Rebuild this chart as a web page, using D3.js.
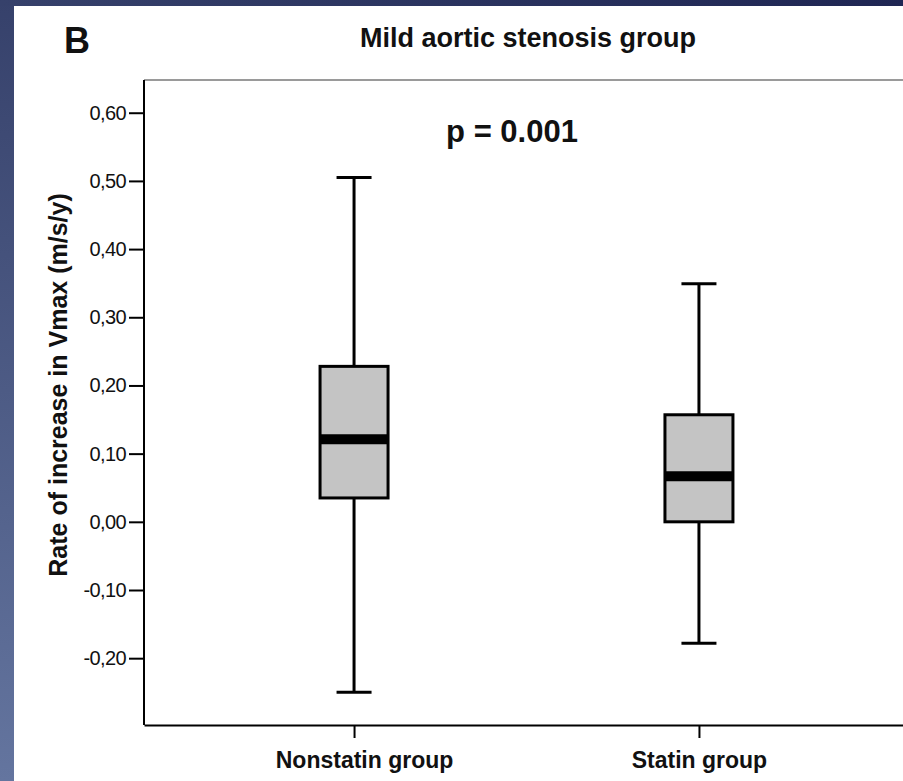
<!DOCTYPE html>
<html>
<head>
<meta charset="utf-8">
<script src="https://cdn.jsdelivr.net/npm/d3@7"></script>
<style>
  body { margin: 0; padding: 0; overflow: hidden; }
  svg { display: block; font-family: "Liberation Sans", Arial, sans-serif; }
</style>
</head>
<body>
<div id="chart"></div>
<script>
// Data
const groups = ["Nonstatin group", "Statin group"];
const mins    = [-0.250, -0.178];
const q1s     = [0.035, 0.000];
const medians = [0.121, 0.067];
const q3s     = [0.228, 0.157];
const maxs    = [0.505, 0.349];
const yTicks  = [-0.2, -0.1, 0, 0.1, 0.2, 0.3, 0.4, 0.5, 0.6];

const W = 903, H = 781;
const plot = {left: 144, top: 80, bottom: 725, right: 909};

const svg = d3.select("#chart")
  .append("svg")
    .attr("width", W)
    .attr("height", H);

// Background: blue slide frame on the top and left
const defs = svg.append("defs");
const gLeft = defs.append("linearGradient")
  .attr("id", "gl").attr("x1", 0).attr("y1", 0).attr("x2", 0).attr("y2", 1);
gLeft.append("stop").attr("offset", "0%").attr("stop-color", "#36416b");
gLeft.append("stop").attr("offset", "100%").attr("stop-color", "#64759f");
const gTop = defs.append("linearGradient")
  .attr("id", "gt").attr("x1", 0).attr("y1", 0).attr("x2", 1).attr("y2", 0);
gTop.append("stop").attr("offset", "0%").attr("stop-color", "#36416b");
gTop.append("stop").attr("offset", "100%").attr("stop-color", "#1f2653");

svg.append("rect").attr("width", W).attr("height", H).attr("fill", "#ffffff");
svg.append("rect").attr("x", 0).attr("y", 0).attr("width", 14).attr("height", H).attr("fill", "url(#gl)");
svg.append("rect").attr("x", 0).attr("y", 0).attr("width", W).attr("height", 6).attr("fill", "url(#gt)");

// Scales
const y = d3.scaleLinear()
  .domain([-0.298, 0.648])
  .range([plot.bottom, plot.top]);

const x = d3.scalePoint()
  .domain(groups)
  .range([plot.left, plot.right])
  .padding(0.609);

// Top frame line (grey)
svg.append("line")
  .attr("x1", plot.left).attr("x2", W)
  .attr("y1", plot.top).attr("y2", plot.top)
  .attr("stroke", "#9a9a9a")
  .attr("stroke-width", 2);

// Y axis, decimal comma and plain hyphen like the original
const fmt = d3.format(".2f");
const yAxis = svg.append("g")
  .attr("transform", `translate(${plot.left},0)`)
  .call(d3.axisLeft(y)
    .tickValues(yTicks)
    .tickSize(15)
    .tickSizeOuter(0)
    .tickPadding(3)
    .tickFormat(d => fmt(d).replace(".", ",").replace("\u2212", "-")));
yAxis.select(".domain").attr("stroke", "#000").attr("stroke-width", 2)
  .attr("d", `M0,${plot.top}V${plot.bottom}`);
yAxis.selectAll(".tick line").attr("stroke", "#000").attr("stroke-width", 2);
yAxis.selectAll(".tick text")
  .attr("fill", "#111")
  .style("font-size", "20px")
  .style("letter-spacing", "-0.6px");

// X axis
const xAxis = svg.append("g")
  .attr("transform", `translate(0,${plot.bottom})`)
  .call(d3.axisBottom(x).tickSize(13).tickSizeOuter(0).tickPadding(14));
xAxis.select(".domain").attr("stroke", "#000").attr("stroke-width", 2);
xAxis.selectAll(".tick line").attr("stroke", "#000").attr("stroke-width", 2);
xAxis.selectAll(".tick text")
  .attr("fill", "#111")
  .attr("dx", (d, i) => i === 0 ? 10 : 0)
  .style("font-size", "23px")
  .style("font-weight", "bold");

// Y axis label
svg.append("text")
  .attr("transform", `translate(67,385) rotate(-90)`)
  .attr("text-anchor", "middle")
  .style("font-size", "25px")
  .style("font-weight", "bold")
  .attr("fill", "#111")
  .text("Rate of increase in Vmax (m/s/y)");

// Boxes
const boxW = 68, capW = 35;
const boxes = svg.append("g").selectAll("g")
  .data(groups.map((g, i) => ({g, min: mins[i], q1: q1s[i], med: medians[i], q3: q3s[i], max: maxs[i]})))
  .enter()
  .append("g");

// whisker line
boxes.append("line")
  .attr("x1", d => x(d.g)).attr("x2", d => x(d.g))
  .attr("y1", d => y(d.min)).attr("y2", d => y(d.max))
  .attr("stroke", "#000").attr("stroke-width", 3);

// caps
boxes.append("line")
  .attr("x1", d => x(d.g) - capW / 2).attr("x2", d => x(d.g) + capW / 2)
  .attr("y1", d => y(d.max)).attr("y2", d => y(d.max))
  .attr("stroke", "#000").attr("stroke-width", 3);
boxes.append("line")
  .attr("x1", d => x(d.g) - capW / 2).attr("x2", d => x(d.g) + capW / 2)
  .attr("y1", d => y(d.min)).attr("y2", d => y(d.min))
  .attr("stroke", "#000").attr("stroke-width", 3);

// box
boxes.append("rect")
  .attr("x", d => x(d.g) - boxW / 2)
  .attr("width", boxW)
  .attr("y", d => y(d.q3))
  .attr("height", d => y(d.q1) - y(d.q3))
  .attr("fill", "#c4c4c4")
  .attr("stroke", "#000")
  .attr("stroke-width", 3);

// median
boxes.append("line")
  .attr("x1", d => x(d.g) - boxW / 2).attr("x2", d => x(d.g) + boxW / 2)
  .attr("y1", d => y(d.med)).attr("y2", d => y(d.med))
  .attr("stroke", "#000").attr("stroke-width", 10);

// Panel letter and titles
svg.append("text")
  .attr("x", 64).attr("y", 53)
  .style("font-size", "36px")
  .style("font-weight", "bold")
  .attr("fill", "#111")
  .text("B");

svg.append("text")
  .attr("x", 528).attr("y", 47)
  .attr("text-anchor", "middle")
  .style("font-size", "27px")
  .style("font-weight", "bold")
  .attr("fill", "#111")
  .text("Mild aortic stenosis group");

svg.append("text")
  .attr("x", 512).attr("y", 142)
  .attr("text-anchor", "middle")
  .style("font-size", "31px")
  .style("font-weight", "bold")
  .attr("fill", "#111")
  .text("p = 0.001");
</script>
</body>
</html>
